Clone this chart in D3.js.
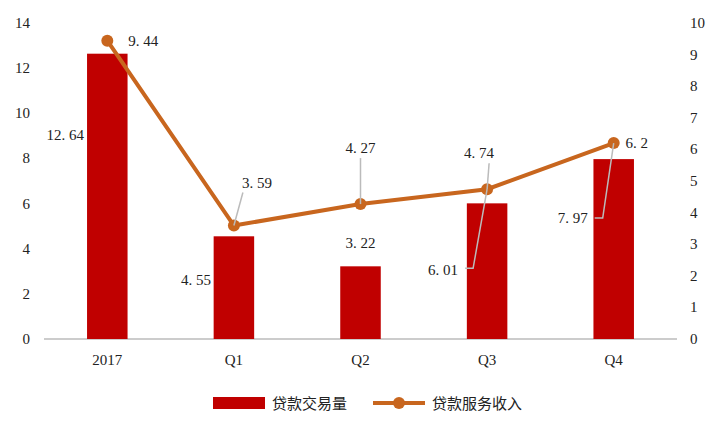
<!DOCTYPE html>
<html>
<head>
<meta charset="utf-8">
<script src="https://cdn.jsdelivr.net/npm/d3@7/dist/d3.min.js"></script>
<style>
body { margin: 0; background: #fff; }
text { font-family: "Liberation Serif", "Noto Sans CJK SC", serif; font-size: 15px; fill: #222; }
</style>
</head>
<body>
<svg id="chart" width="720" height="432"></svg>
<script>
var categories = ["2017", "Q1", "Q2", "Q3", "Q4"];
var volume = [12.64, 4.55, 3.22, 6.01, 7.97];
var income = [9.44, 3.59, 4.27, 4.74, 6.2];
var leftTicks = [0, 2, 4, 6, 8, 10, 12, 14];
var rightTicks = [0, 1, 2, 3, 4, 5, 6, 7, 8, 9, 10];

var svg = d3.select("#chart");
var x = d3.scaleBand().domain(categories).range([44, 677]).paddingInner(0.68).paddingOuter(0.34);
var yL = d3.scaleLinear().domain([0, 14]).range([339, 23]);
var yR = d3.scaleLinear().domain([0, 10]).range([339, 23]);
var cx = function(c) { return x(c) + x.bandwidth() / 2; };

svg.selectAll(".lt").data(leftTicks).enter().append("text")
	.attr("x", 30).attr("y", function(d) { return yL(d) + 5; })
	.attr("text-anchor", "end").text(function(d) { return d; });
svg.selectAll(".rt").data(rightTicks).enter().append("text")
	.attr("x", 690).attr("y", function(d) { return yR(d) + 5; })
	.text(function(d) { return d; });

svg.append("line").attr("x1", 44).attr("x2", 677).attr("y1", 339).attr("y2", 339)
	.attr("stroke", "#999").attr("stroke-width", 1);

svg.selectAll(".ct").data(categories).enter().append("text")
	.attr("x", cx).attr("y", 365).attr("text-anchor", "middle").text(function(d) { return d; });

svg.selectAll(".bar").data(volume).enter().append("rect")
	.attr("x", function(d, i) { return x(categories[i]); })
	.attr("width", x.bandwidth())
	.attr("y", function(d) { return yL(d); })
	.attr("height", function(d) { return 339 - yL(d); })
	.attr("fill", "#C00000");

var line = d3.line().x(function(d, i) { return cx(categories[i]); }).y(function(d) { return yR(d); });
svg.append("path").datum(income).attr("d", line).attr("fill", "none")
	.attr("stroke", "#C8661E").attr("stroke-width", 4);
svg.selectAll(".pt").data(income).enter().append("circle")
	.attr("cx", function(d, i) { return cx(categories[i]); })
	.attr("cy", function(d) { return yR(d); })
	.attr("r", 6).attr("fill", "#C8661E");

function fmt(v) { return String(v).replace(".", ". "); }

// label centre offsets from mark top; leader = [from-dx, from-dy] relative to label centre, ending at line point
var volLabels = [[-42, 81], [-38, 44], [0, -23], [-44, 67, [22, -2]], [-41, 59, [22, 0]]];
var incLabels = [[36, 0], [23, -43, [-14, 10]], [0, -56, [0, 10]], [-8, -36, [10, 10]], [23, 0]];

function labels(values, ys, offs) {
	values.forEach(function(v, i) {
		var px = cx(categories[i]), py = ys(v), o = offs[i];
		var tx = px + o[0], ty = py + o[1];
		if (o[2]) {
			var lx = tx + o[2][0], ly = ty + o[2][1];
			var pts = o[2][0] > 15 ? [[lx, ly], [lx + 8, ly], [px, yR(income[i])]] : [[lx, ly], [px, yR(income[i])]];
			svg.append("polyline").attr("points", pts.join(" "))
				.attr("fill", "none").attr("stroke", "#bbb").attr("stroke-width", 1.5);
		}
		svg.append("text").attr("x", tx).attr("y", ty + 5).attr("text-anchor", "middle").text(fmt(v));
	});
}
labels(volume, function(v) { return yL(v); }, volLabels);
labels(income, function(v) { return yR(v); }, incLabels);

var lg = svg.append("g");
lg.append("rect").attr("x", 213).attr("y", 397).attr("width", 52).attr("height", 12).attr("fill", "#C00000");
lg.append("text").attr("x", 272).attr("y", 409).text("贷款交易量");
lg.append("line").attr("x1", 373).attr("x2", 425).attr("y1", 403).attr("y2", 403)
	.attr("stroke", "#C8661E").attr("stroke-width", 4);
lg.append("circle").attr("cx", 399).attr("cy", 403).attr("r", 6).attr("fill", "#C8661E");
lg.append("text").attr("x", 432).attr("y", 409).text("贷款服务收入");
</script>
</body>
</html>
